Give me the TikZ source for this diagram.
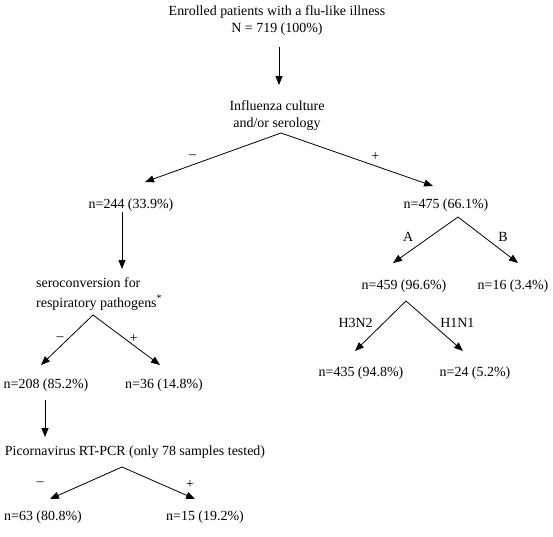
\documentclass[tikz,border=0pt]{standalone}
\usepackage{fontspec}
\setmainfont{Liberation Serif}
\usetikzlibrary{arrows.meta}

\tikzset{
    txt/.style={font=\fontsize{14}{17}\selectfont, inner sep=0pt},
    lbl/.style={font=\fontsize{14}{17}\selectfont, inner sep=0pt},
    arr/.style={line width=0.8pt, -{Triangle[length=9pt,width=7pt]}}
}

\begin{document}
\begin{tikzpicture}[x=1bp, y=1bp]
    \useasboundingbox (0,0) rectangle (553,-537);

    \node [txt, align=center] (enrol) at (277,-21) {Enrolled patients with a flu-like illness\\N = 719 (100\%)};
    \node [txt, align=center] (influenza) at (277,-116) {Influenza culture\\and/or serology};
    \node [txt] (neg244) at (131,-205) {n=244 (33.9\%)};
    \node [txt] (pos475) at (446,-205) {n=475 (66.1\%)};
    \node [txt, align=left, anchor=west] (sero) at (36,-294) {seroconversion for\\[3pt]respiratory pathogens\raisebox{6pt}{\fontsize{10}{10}\selectfont *}};
    \node [txt] (fluA) at (404,-286) {n=459 (96.6\%)};
    \node [txt] (fluB) at (513,-286) {n=16 (3.4\%)};
    \node [txt] (h3n2) at (361,-373) {n=435 (94.8\%)};
    \node [txt] (h1n1) at (475,-373) {n=24 (5.2\%)};
    \node [txt] (seroneg) at (46,-385) {n=208 (85.2\%)};
    \node [txt] (seropos) at (164,-385) {n=36 (14.8\%)};
    \node [txt] (pcr) at (135,-452) {Picornavirus RT-PCR (only 78 samples tested)};
    \node [txt] (pcrneg) at (43,-517) {n=63 (80.8\%)};
    \node [txt] (pcrpos) at (205,-517) {n=15 (19.2\%)};

    % first split
    \draw [arr] ([shift={(2,-26)}]enrol.center) -- ([shift={(2,31)}]influenza.center);
    \draw [arr] ([shift={(4,-17)}]influenza.center) -- ([shift={(14,23)}]neg244.center) node [lbl, pos=.65, yshift=8] {\textendash};
    \draw [arr] ([shift={(4,-17)}]influenza.center) -- ([shift={(-13,19)}]pos475.center) node [lbl, pos=.62, yshift=9] {+};

    % influenza negative branch
    \draw [arr] ([shift={(-9,-7)}]neg244.center) -- ([shift={(86,25)}]sero.west);
    \draw [arr] ([shift={(57,-21)}]sero.west) -- ([shift={(-5,20)}]seroneg.center) node [lbl, pos=.48, xshift=-8] {\textendash};
    \draw [arr] ([shift={(57,-21)}]sero.west) -- ([shift={(-4,20)}]seropos.center) node [lbl, pos=.61, yshift=7] {+};
    \draw [arr] ([shift={(-1,-15)}]seroneg.center) -- ([shift={(-90,15)}]pcr.center);
    \draw [arr] ([shift={(-13,-15)}]pcr.center) -- ([shift={(7,18)}]pcrneg.center) node [lbl, pos=1, xshift=-10, yshift=15] {\textendash};
    \draw [arr] ([shift={(-13,-15)}]pcr.center) -- ([shift={(-10,18)}]pcrpos.center) node [lbl, pos=1, xshift=-5, yshift=14] {+};

    % influenza positive branch
    \draw [arr] ([shift={(12,-12)}]pos475.center) -- ([shift={(-11,23)}]fluA.center) node [lbl, pos=.6, xshift=-11, yshift=8] {A};
    \draw [arr] ([shift={(12,-12)}]pos475.center) -- ([shift={(5,23)}]fluB.center) node [lbl, pos=.6, xshift=9, yshift=8] {B};
    \draw [arr] ([shift={(2,-15)}]fluA.center) -- ([shift={(-6,22)}]h3n2.center) node [lbl, pos=.5, xshift=-25, yshift=3] {H3N2};
    \draw [arr] ([shift={(2,-15)}]fluA.center) -- ([shift={(-12,22)}]h1n1.center) node [lbl, pos=.5, xshift=23, yshift=3] {H1N1};
\end{tikzpicture}
\end{document}
